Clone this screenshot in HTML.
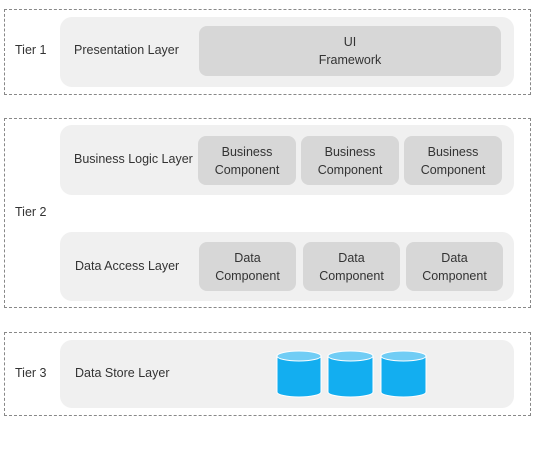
<!DOCTYPE html>
<html><head><style>
body{margin:0;width:538px;height:449px;background:#fff;position:relative;font-family:"Liberation Sans",sans-serif;font-size:12.5px;color:#333;}
div{position:absolute;box-sizing:border-box;}
.d{border:1px dashed #888;}
.in{background:#f0f0f0;border-radius:12px;}
.c{background:#d7d7d7;border-radius:8px;display:flex;align-items:center;justify-content:center;text-align:center;line-height:18px;}
.t{white-space:nowrap;line-height:14px;}
</style></head><body>
<div class="d" style="left:4px;top:9px;width:527px;height:86px"></div>
<div class="in" style="left:60px;top:17px;width:454px;height:70px"></div>
<div class="c" style="left:199px;top:26px;width:302px;height:50px">UI<br>Framework</div>
<div class="t" style="left:15px;top:43px">Tier 1</div>
<div class="t" style="left:74px;top:43px">Presentation Layer</div>

<div class="d" style="left:4px;top:118px;width:527px;height:190px"></div>
<div class="in" style="left:60px;top:125px;width:454px;height:70px"></div>
<div class="c" style="left:198px;top:136px;width:98px;height:49px">Business<br>Component</div>
<div class="c" style="left:301px;top:136px;width:98px;height:49px">Business<br>Component</div>
<div class="c" style="left:404px;top:136px;width:98px;height:49px">Business<br>Component</div>
<div class="t" style="left:74px;top:152px">Business Logic Layer</div>
<div class="in" style="left:60px;top:232px;width:454px;height:69px"></div>
<div class="c" style="left:199px;top:242px;width:97px;height:49px">Data<br>Component</div>
<div class="c" style="left:303px;top:242px;width:97px;height:49px">Data<br>Component</div>
<div class="c" style="left:406px;top:242px;width:97px;height:49px">Data<br>Component</div>
<div class="t" style="left:15px;top:205px">Tier 2</div>
<div class="t" style="left:75px;top:259px">Data Access Layer</div>

<div class="d" style="left:4px;top:332px;width:527px;height:84px"></div>
<div class="in" style="left:60px;top:340px;width:454px;height:68px"></div>
<div class="t" style="left:15px;top:366px">Tier 3</div>
<div class="t" style="left:75px;top:366px">Data Store Layer</div>
<svg style="position:absolute;left:0;top:0" width="538" height="449">
<g stroke="#fff" stroke-width="1">
<path d="M277,356 v36 a22,5 0 0 0 44,0 v-36 z" fill="#13aef0"/>
<ellipse cx="299" cy="356" rx="22" ry="5" fill="#71cdf5"/>
<path d="M328,356 v36 a22.5,5 0 0 0 45,0 v-36 z" fill="#13aef0"/>
<ellipse cx="350.5" cy="356" rx="22.5" ry="5" fill="#71cdf5"/>
<path d="M381,356 v36 a22.5,5 0 0 0 45,0 v-36 z" fill="#13aef0"/>
<ellipse cx="403.5" cy="356" rx="22.5" ry="5" fill="#71cdf5"/>
</g></svg>
</body></html>
